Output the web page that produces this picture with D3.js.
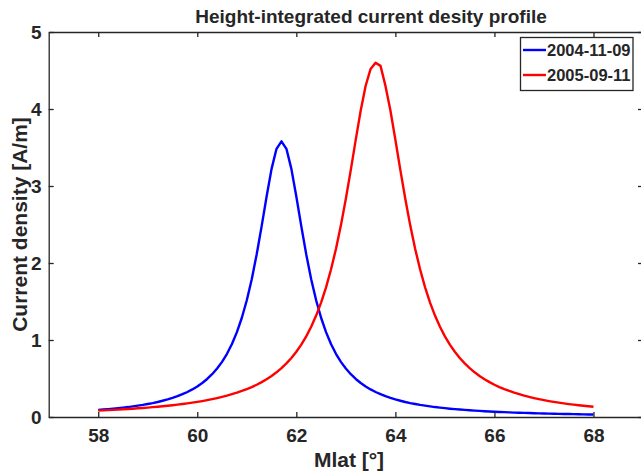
<!DOCTYPE html>
<html><head><meta charset="utf-8">
<script src="https://cdn.jsdelivr.net/npm/d3@7"></script>
<style>body{margin:0;background:#fff}svg{display:block}text{font-family:"Liberation Sans",Arial,sans-serif;font-weight:bold;fill:#262626}</style>
</head><body><svg id="c" width="641" height="473"></svg>
<script>
const mlat = d3.range(0, 101).map(i => +(58 + i * 0.1).toFixed(1));
const blue2004 = [0.092,0.097,0.102,0.108,0.115,0.122,0.129,0.138,0.147,0.157,
0.169,0.181,0.195,0.211,0.228,0.248,0.270,0.296,0.325,0.358,
0.397,0.441,0.494,0.556,0.629,0.716,0.821,0.948,1.102,1.289,
1.516,1.790,2.113,2.479,2.864,3.222,3.483,3.580,3.483,3.222,
2.864,2.479,2.113,1.790,1.516,1.289,1.102,0.948,0.821,0.716,
0.629,0.556,0.494,0.441,0.397,0.358,0.325,0.296,0.270,0.248,
0.228,0.211,0.195,0.181,0.169,0.157,0.147,0.138,0.129,0.122,
0.115,0.108,0.102,0.097,0.092,0.087,0.083,0.079,0.075,0.072,
0.068,0.065,0.063,0.060,0.057,0.055,0.053,0.051,0.049,0.047,
0.045,0.044,0.042,0.041,0.039,0.038,0.037,0.035,0.034,0.033,0.032];
const red2005 = [0.083,0.086,0.089,0.093,0.096,0.100,0.104,0.108,0.113,0.117,
0.122,0.128,0.133,0.139,0.146,0.153,0.160,0.168,0.177,0.186,
0.196,0.207,0.219,0.232,0.246,0.261,0.277,0.296,0.316,0.338,
0.362,0.389,0.419,0.453,0.490,0.533,0.580,0.635,0.696,0.766,
0.847,0.940,1.047,1.172,1.317,1.486,1.684,1.915,2.182,2.489,
2.834,3.210,3.602,3.980,4.302,4.52,4.60,4.56,4.30,3.98,
3.60,3.21,2.834,2.489,2.182,1.915,1.684,1.486,1.317,1.172,
1.047,0.940,0.847,0.766,0.696,0.635,0.580,0.533,0.490,0.453,
0.419,0.389,0.362,0.338,0.316,0.296,0.277,0.261,0.246,0.232,
0.219,0.207,0.196,0.186,0.177,0.168,0.160,0.153,0.146,0.139,0.133];
const seriesNames = ["2004-11-09", "2005-09-11"];
const seriesColors = ["#0000ff", "#ff0000"];
const xTicks = [58, 60, 62, 64, 66, 68];
const yTicks = [0, 1, 2, 3, 4, 5];
const titleText = "Height-integrated current desity profile";
const xLabel = "Mlat [°]";
const yLabel = "Current density [A/m]";

const svg = d3.select("#c");
const L = 48.7, R = 643, T = 32, B = 417;
const x = d3.scaleLinear().domain([57, 69]).range([L, R]);
const y = d3.scaleLinear().domain([0, 5]).range([B, T]);
const axisColor = "#262626";
const fam = '"Liberation Sans", Arial, sans-serif';

// curves
const seriesData = [blue2004, red2005];
const line = d3.line().x((d, i) => x(mlat[i])).y(d => y(d));
seriesData.forEach((s, k) => {
  svg.append("path").datum(s).attr("d", line)
    .attr("fill", "none").attr("stroke", seriesColors[k]).attr("stroke-width", 2.4)
    .attr("stroke-linejoin", "round");
});

// axes (ticks inward)
const fmt = d3.format("d");
const gx = svg.append("g").attr("transform", `translate(0,${B})`)
  .call(d3.axisBottom(x).tickValues(xTicks).tickFormat(fmt).tickSizeInner(-5).tickSizeOuter(0).tickPadding(12));
const gxt = svg.append("g").attr("transform", `translate(0,${T})`)
  .call(d3.axisTop(x).tickValues(xTicks).tickSizeInner(-5).tickSizeOuter(0).tickFormat(""));
const gy = svg.append("g").attr("transform", `translate(${L},0)`)
  .call(d3.axisLeft(y).tickValues(yTicks).tickFormat(fmt).tickSizeInner(-5).tickSizeOuter(0).tickPadding(7));
const gyr = svg.append("g").attr("transform", `translate(${R},0)`)
  .call(d3.axisRight(y).tickValues(yTicks).tickSizeInner(-5).tickSizeOuter(0).tickFormat(""));
[gx, gxt, gy, gyr].forEach(g => {
  g.select(".domain").attr("stroke", axisColor).attr("stroke-width", 1.3);
  g.selectAll(".tick line").attr("stroke", axisColor).attr("stroke-width", 1.3);
  g.selectAll(".tick text").attr("fill", axisColor).style("font-size", "19px").style("font-weight", "bold")
    .style("font-family", fam);
});

// title and labels
svg.append("text").attr("x", 371).attr("y", 23).attr("text-anchor", "middle")
  .style("font-size", "19px").text(titleText);
svg.append("text").attr("x", 349).attr("y", 467).attr("text-anchor", "middle")
  .style("font-size", "21px").text(xLabel);
svg.append("text").attr("transform", `translate(27,${(T + B) / 2}) rotate(-90)`)
  .attr("text-anchor", "middle").style("font-size", "21px").text(yLabel);

// legend
const lg = svg.append("g");
lg.append("rect").attr("x", 520.5).attr("y", 37.5).attr("width", 112.5).attr("height", 53)
  .attr("fill", "#fff").attr("stroke", axisColor).attr("stroke-width", 1.3);
seriesNames.forEach((n, k) => {
  const yy = 50 + k * 25;
  lg.append("line").attr("x1", 523).attr("x2", 546).attr("y1", yy).attr("y2", yy)
    .attr("stroke", seriesColors[k]).attr("stroke-width", 2.4);
  lg.append("text").attr("x", 547).attr("y", yy).attr("dy", "0.36em")
    .style("font-size", "16.5px").text(n);
});
</script></body></html>
